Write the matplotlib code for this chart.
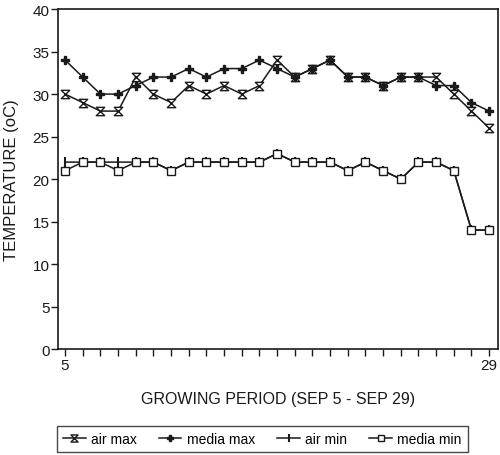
import matplotlib
matplotlib.use("Agg")
import matplotlib.pyplot as plt
from matplotlib.path import Path

plt.rcParams['font.family'] = ['Liberation Sans', 'DejaVu Sans']

days = list(range(5, 30))
air_max = [30, 29, 28, 28, 32, 30, 29, 31, 30, 31, 30, 31, 34, 32, 33, 34, 32, 32, 31, 32, 32, 32, 30, 28, 26]
media_max = [34, 32, 30, 30, 31, 32, 32, 33, 32, 33, 33, 34, 33, 32, 33, 34, 32, 32, 31, 32, 32, 31, 31, 29, 28]
air_min = [22, 22, 22, 22, 22, 22, 21, 22, 22, 22, 22, 22, 23, 22, 22, 22, 21, 22, 21, 20, 22, 22, 21, 14, 14]
media_min = [21, 22, 22, 21, 22, 22, 21, 22, 22, 22, 22, 22, 23, 22, 22, 22, 21, 22, 21, 20, 22, 22, 21, 14, 14]

# hourglass marker for air max
hourglass = Path([(-1, 1), (1, 1), (-1, -1), (1, -1), (-1, 1)],
                 [Path.MOVETO, Path.LINETO, Path.LINETO, Path.LINETO, Path.CLOSEPOLY])

ink = "#1a1a1a"

fig = plt.figure(figsize=(5.0, 4.56), dpi=100)
ax = fig.add_axes([0.116, 0.232, 0.880, 0.746])

ax.plot(days, air_max, color=ink, lw=1.1, marker=hourglass, ms=6,
        mfc="white", mec=ink, mew=1.0, label="air max")
ax.plot(days, media_max, color=ink, lw=1.1, marker="P", ms=5.5,
        mfc=ink, mec=ink, label="media max")
ax.plot(days, air_min, color=ink, lw=1.1, marker="|", ms=7,
        mec=ink, mew=1.5, label="air min")
ax.plot(days, media_min, color=ink, lw=1.1, marker="s", ms=5.5,
        mfc="white", mec=ink, mew=1.0, label="media min")

ax.set_xlim(4.6, 29.5)
ax.set_ylim(0, 40)
ax.set_xticks(days)
ax.set_xticklabels([str(d) if d in (5, 29) else "" for d in days])
ax.set_yticks(range(0, 41, 5))
ax.tick_params(axis="both", direction="out", length=5, width=1.0,
               colors=ink, labelsize=11, pad=1)
for s in ax.spines.values():
    s.set_color(ink)
    s.set_linewidth(1.2)

ax.set_xlabel("GROWING PERIOD (SEP 5 - SEP 29)", fontsize=11.5, color=ink, labelpad=14)
ax.set_ylabel("TEMPERATURE (oC)", fontsize=12, color=ink, labelpad=10)

leg = fig.legend(loc="center", bbox_to_anchor=(0.525, 0.035), ncol=4,
                 frameon=True, fancybox=False, edgecolor=ink, fontsize=10,
                 handlelength=1.6, handletextpad=0.4, columnspacing=1.6,
                 borderpad=0.45, markerscale=0.85)
leg.get_frame().set_linewidth(1.0)

fig.savefig("out.png", dpi=100)
